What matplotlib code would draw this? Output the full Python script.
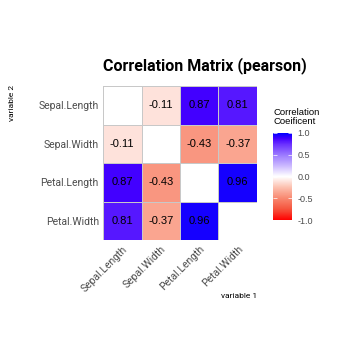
import matplotlib
matplotlib.use("Agg")
import matplotlib.pyplot as plt
import numpy as np
from matplotlib.colors import LinearSegmentedColormap, Normalize
from matplotlib.colorbar import ColorbarBase

variables = ["Sepal.Length", "Sepal.Width", "Petal.Length", "Petal.Width"]
corr = [
    [1.00, -0.11, 0.87, 0.81],
    [-0.11, 1.00, -0.43, -0.37],
    [0.87, -0.43, 1.00, 0.96],
    [0.81, -0.37, 0.96, 1.00],
]
cbar_ticks = [-1.0, -0.5, 0.0, 0.5, 1.0]

# red - white - blue gradient, matched by eye to the reference
grad_stops = [
    (-1.00, "#ff0000"), (-0.75, "#f5553e"), (-0.50, "#f88870"),
    (-0.25, "#fcc0af"), (0.00, "#ffffff"), (0.25, "#cbb8ff"),
    (0.50, "#9a78ff"), (0.75, "#6a30ff"), (0.87, "#4400ff"),
    (1.00, "#0000ff"),
]
cmap = LinearSegmentedColormap.from_list(
    "rwb", [((v + 1) / 2, c) for v, c in grad_stops])
cmap.set_bad("white")
norm = Normalize(-1, 1)

data = np.array(corr, float)
n = len(variables)
masked = np.ma.masked_where(np.eye(n, dtype=bool), data)

fig = plt.figure(figsize=(3.6, 3.6), dpi=100)
ax = fig.add_axes([103 / 360, 1 - 240 / 360, 154 / 360, 154 / 360])
ax.pcolormesh(np.arange(n + 1), np.arange(n + 1), masked, cmap=cmap, norm=norm,
              edgecolors="#c8c8c8", linewidth=0.5)
ax.set_xlim(0, n)
ax.set_ylim(n, 0)

for i in range(n):
    for j in range(n):
        if i == j:
            continue
        ax.text(j + 0.5, i + 0.5, f"{data[i, j]:.2f}", ha="center", va="center",
                fontsize=8, family="Liberation Sans", color="black")

ax.set_xticks(np.arange(n) + 0.5)
ax.set_yticks(np.arange(n) + 0.5)
ax.set_xticklabels(variables, rotation=45, ha="right", va="top", rotation_mode="anchor",
                   family="Roboto", fontsize=7.5, color="#4d4d4d")
ax.set_yticklabels(variables, family="Roboto", fontsize=7.5, color="#4d4d4d")
ax.tick_params(length=0, pad=3)
for s in ax.spines.values():
    s.set_visible(False)

fig.text(103 / 360, 1 - 66 / 360, "Correlation Matrix (pearson)", ha="left", va="center",
         family="Roboto", fontweight="bold", fontsize=11.5)
fig.text(257 / 360, 1 - 296 / 360, "variable 1", ha="right", va="center",
         family="Roboto", fontsize=6, color="black")
fig.text(12 / 360, 1 - 85 / 360, "variable 2", ha="center", va="top", rotation=90,
         family="Roboto", fontsize=6, color="black")

cax = fig.add_axes([273 / 360, 1 - 220 / 360, 19 / 360, 87 / 360])
cb = ColorbarBase(cax, cmap=cmap, norm=norm, ticks=cbar_ticks)
cb.outline.set_visible(False)
cax.tick_params(axis="y", direction="in", color="white", length=3, width=0.5,
                left=True, right=True, labelsize=6.5, pad=4, labelcolor="#4d4d4d")
cax.set_yticklabels([f"{t:.1f}" for t in cbar_ticks], family="Liberation Sans")
fig.text(273 / 360, 1 - 117 / 360, "Correlation\nCoeificent", ha="left", va="center",
         family="Liberation Sans", fontsize=6.8, linespacing=1.0)

fig.savefig("out.png", dpi=100, facecolor="white")
